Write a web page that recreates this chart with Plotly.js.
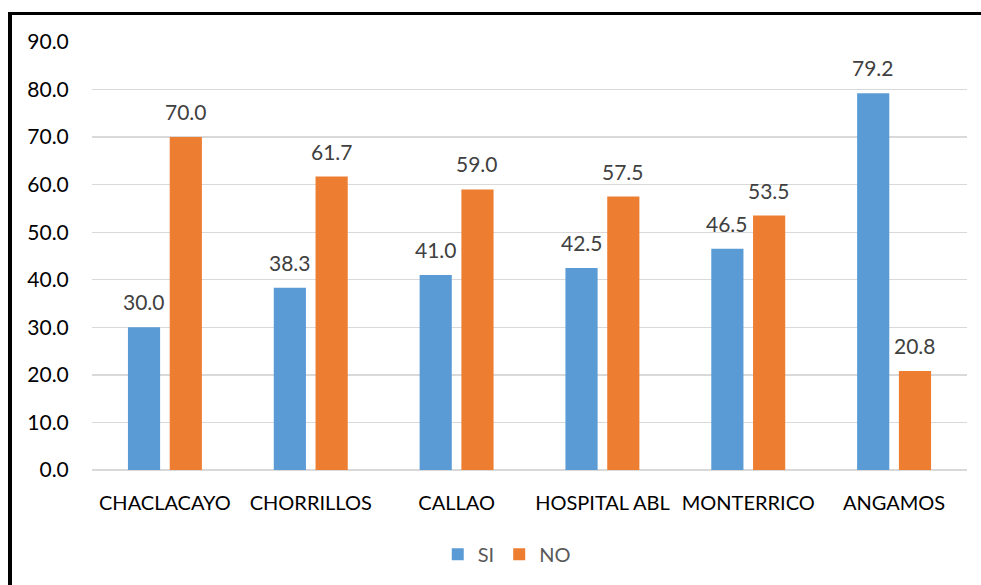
<!DOCTYPE html>
<html>
<head>
<meta charset="utf-8">
<script src="https://cdn.plot.ly/plotly-3.0.1.min.js"></script>
<style>
  html, body { margin: 0; padding: 0; background: #fff; }
  #wrap { position: relative; width: 981px; height: 585px; overflow: hidden; }
  #chart { position: absolute; left: 0; top: 0; width: 981px; height: 585px; }
  #frame { position: absolute; left: 8px; top: 12px; width: 990px; height: 600px;
           border-left: 4px solid #000; border-top: 3px solid #000; pointer-events: none; }
</style>
</head>
<body>
<div id="wrap">
  <div id="chart"></div>
  <div id="frame"></div>
</div>
<script>
const categories = ["CHACLACAYO", "CHORRILLOS", "CALLAO", "HOSPITAL ABL", "MONTERRICO", "ANGAMOS"];
const siValues = [30.0, 38.3, 41.0, 42.5, 46.5, 79.2];
const noValues = [70.0, 61.7, 59.0, 57.5, 53.5, 20.8];
const yTicks = [0, 10, 20, 30, 40, 50, 60, 70, 80, 90];

const FONT = "Lato, 'Open Sans', sans-serif";
const SI_COLOR = "#5B9BD5";
const NO_COLOR = "#ED7D31";

const traces = [
  { type: "bar", name: "SI", x: categories, y: siValues, marker: { color: SI_COLOR }, hoverinfo: "none" },
  { type: "bar", name: "NO", x: categories, y: noValues, marker: { color: NO_COLOR }, hoverinfo: "none" }
];

const OFFSET = 20.9;
const annotations = [];
categories.forEach((c, i) => {
  [[siValues, -OFFSET], [noValues, OFFSET]].forEach(([arr, dx]) => {
    annotations.push({
      x: c, y: arr[i], xref: "x", yref: "y",
      text: arr[i].toFixed(1), showarrow: false,
      xanchor: "center", yanchor: "bottom",
      xshift: dx, yshift: 11,
      font: { family: FONT, size: 21, color: "#404040" }
    });
  });
});

const layout = {
  width: 981, height: 585,
  margin: { l: 92, r: 14, t: 42, b: 113.5 },
  paper_bgcolor: "#fff", plot_bgcolor: "#fff",
  barmode: "group", bargap: 0.427, bargroupgap: 0.23,
  font: { family: FONT, size: 21, color: "#000" },
  xaxis: {
    type: "category", showgrid: false, zeroline: false, showline: false,
    ticks: "outside", ticklen: 15, tickcolor: "rgba(0,0,0,0)",
    tickfont: { family: FONT, size: 20, color: "#000" }
  },
  yaxis: {
    range: [0, 90], tickvals: yTicks, ticktext: yTicks.map(v => v.toFixed(1)),
    showgrid: true, gridcolor: "#D9D9D9", gridwidth: 1.3,
    zeroline: true, zerolinecolor: "#D9D9D9", zerolinewidth: 1.3,
    showline: false, ticks: "outside", ticklen: 18, tickcolor: "rgba(0,0,0,0)",
    tickfont: { family: FONT, size: 21, color: "#000" }
  },
  showlegend: true,
  legend: {
    orientation: "h", x: 0.474, xanchor: "center", y: -0.194, yanchor: "middle",
    font: { family: FONT, size: 20, color: "#595959" },
    tracegroupgap: 0
  },
  annotations: annotations
};

Plotly.newPlot("chart", traces, layout, { staticPlot: true, displayModeBar: false });
</script>
</body>
</html>
